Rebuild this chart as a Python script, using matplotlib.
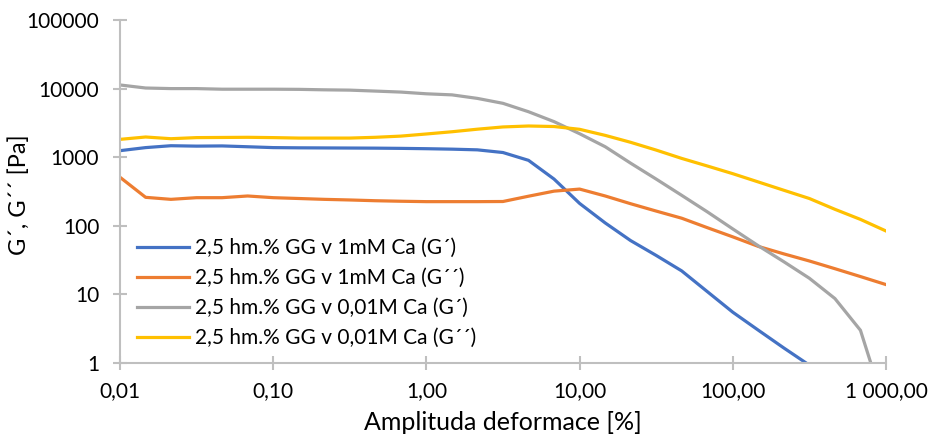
import numpy as np
import matplotlib
matplotlib.use("Agg")
import matplotlib.pyplot as plt
from matplotlib.ticker import FixedLocator, NullLocator, FixedFormatter

# strain amplitude [%] (log sweep, 6 points per decade)
strain = [0.01, 0.0147, 0.0215, 0.0316, 0.0464, 0.0681,
          0.1, 0.147, 0.215, 0.316, 0.464, 0.681,
          1.0, 1.47, 2.15, 3.16, 4.64, 6.81,
          10.0, 14.7, 21.5, 31.6, 46.4, 68.1,
          100.0, 147.0, 215.0, 316.0, 464.0, 681.0, 1000.0]

g1_storage = [1245, 1380, 1470, 1450, 1460, 1420,
              1380, 1370, 1365, 1360, 1355, 1345,
              1330, 1310, 1280, 1170, 900, 480,
              212, 110, 61, 37, 22, 11,
              5.5, 3.0, 1.66, 0.93, 0.5, None, None]
g1_loss = [510, 260, 243, 257, 257, 272,
           257, 250, 243, 238, 232, 228,
           225, 225, 225, 226, 270, 320,
           343, 272, 210, 164, 129, 94,
           69, 50, 39, 30.7, 23.7, 18.2, 13.9]
g2_storage = [11300, 10200, 10000, 10000, 9800, 9800,
              9800, 9750, 9600, 9500, 9200, 8900,
              8400, 8100, 7200, 6100, 4600, 3300,
              2200, 1420, 820, 480, 278, 160,
              90, 51, 30, 17.2, 8.7, 3.0, 0.2]
g2_loss = [1820, 1970, 1860, 1930, 1940, 1950,
           1930, 1900, 1900, 1900, 1950, 2030,
           2180, 2350, 2560, 2760, 2850, 2800,
           2550, 2080, 1650, 1270, 960, 745,
           575, 435, 330, 250, 174, 124, 84]

labels = ["2,5 hm.% GG v 1mM Ca (G´)",
          "2,5 hm.% GG v 1mM Ca (G´´)",
          "2,5 hm.% GG v 0,01M Ca (G´)",
          "2,5 hm.% GG v 0,01M Ca (G´´)"]
colors = ["#4472C4", "#ED7D31", "#A5A5A5", "#FFC000"]

x_ticks = [0.01, 0.1, 1, 10, 100, 1000]
x_ticklabels = ["0,01", "0,10", "1,00", "10,00", "100,00", "1 000,00"]
y_ticks = [1, 10, 100, 1000, 10000, 100000]
y_ticklabels = ["1", "10", "100", "1000", "10000", "100000"]

plt.rcParams['font.family'] = ['Lato', 'DejaVu Sans']
FS = 15

fig = plt.figure(figsize=(9.32, 4.41), dpi=100)
ax = fig.add_axes([120/932, 1-363/441, 766/932, 343/441])

for ys, lab, c in zip([g1_storage, g1_loss, g2_storage, g2_loss], labels, colors):
    y = np.array([np.nan if v is None else v for v in ys], dtype=float)
    ax.plot(strain, y, color=c, lw=2.3, label=lab, solid_joinstyle='round')

ax.set_xscale('log')
ax.set_yscale('log')
ax.set_xlim(0.01, 1000)
ax.set_ylim(1, 100000)
ax.xaxis.set_major_locator(FixedLocator(x_ticks))
ax.xaxis.set_major_formatter(FixedFormatter(x_ticklabels))
ax.xaxis.set_minor_locator(NullLocator())
ax.yaxis.set_major_locator(FixedLocator(y_ticks))
ax.yaxis.set_major_formatter(FixedFormatter(y_ticklabels))
ax.yaxis.set_minor_locator(NullLocator())

for s in ['top', 'right']:
    ax.spines[s].set_visible(False)
for s in ['left', 'bottom']:
    ax.spines[s].set_color('#BFBFBF')
    ax.spines[s].set_linewidth(1.5)
ax.tick_params(axis='both', direction='inout', length=10, width=1.5,
               color='#BFBFBF', labelsize=FS, labelcolor='black')
ax.tick_params(axis='y', pad=10)
ax.tick_params(axis='x', pad=8)

ax.set_xlabel("Amplituda deformace [%]", fontsize=18)
ax.xaxis.set_label_coords(0.5, -0.14)
ax.set_ylabel("G´, G´´ [Pa]", fontsize=17)
ax.yaxis.set_label_coords(-0.118, 0.49)

leg = ax.legend(loc='upper left', bbox_to_anchor=(0.022, 0.364), frameon=False,
                fontsize=FS, handlelength=2.5, handletextpad=0.3,
                labelspacing=0.48, borderpad=0, borderaxespad=0)

fig.savefig("out.png", dpi=100)
